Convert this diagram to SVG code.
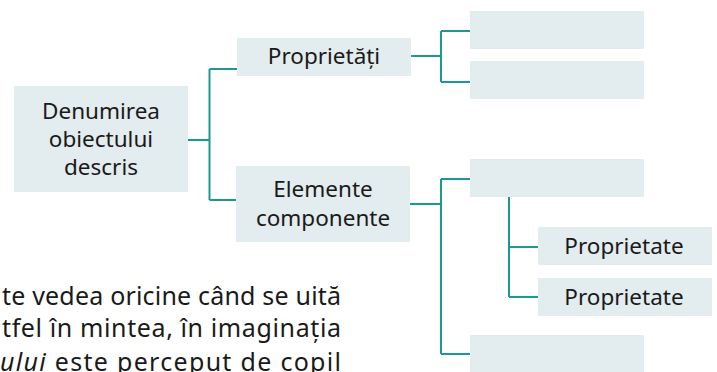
<svg xmlns="http://www.w3.org/2000/svg" width="717" height="372" viewBox="0 0 717 372">
<style>
.box{fill:#e3ecee}
.t{font-family:"Noto Sans","Liberation Sans",sans-serif;font-size:22.5px;fill:#1a1a1a;text-anchor:middle}
.p{font-family:"Noto Sans","Liberation Sans",sans-serif;font-size:25px;fill:#1a1a1a}
.c{fill:none;stroke:#1a9994;stroke-width:2}
</style>
<rect width="717" height="372" fill="#ffffff"/>
<g id="connectors">
<path class="c" d="M188,140H209.5M209.5,69V200M209.5,69H237M209.5,200H236"/>
<path class="c" d="M411,56H441M441,31V82M441,31H470M441,82H470"/>
<path class="c" d="M410,204H441M441,179V354M441,179H470M441,354H470"/>
<path class="c" d="M509,197V297M509,247H538M509,297H538"/>
</g>
<g id="root"><rect class="box" x="14" y="86" width="174" height="106"/>
<text class="t" x="101" y="119">Denumirea</text><text class="t" x="101" y="147">obiectului</text><text class="t" x="101" y="175">descris</text></g>
<g id="proprietati"><rect class="box" x="237" y="38" width="174" height="38"/><text class="t" x="324" y="64">Proprietăți</text></g>
<g id="elemente"><rect class="box" x="236" y="166" width="174" height="76"/><text class="t" x="323" y="197">Elemente</text><text class="t" x="323" y="226">componente</text></g>
<g id="e1"><rect class="box" x="470" y="11" width="174" height="38"/></g>
<g id="e2"><rect class="box" x="470" y="61" width="174" height="38"/></g>
<g id="e3"><rect class="box" x="470" y="159" width="174" height="38"/></g>
<g id="e4"><rect class="box" x="470" y="335" width="174" height="37"/></g>
<g id="p1"><rect class="box" x="538" y="227" width="174" height="38"/><text class="t" x="624" y="254">Proprietate</text></g>
<g id="p2"><rect class="box" x="538" y="278" width="174" height="38"/><text class="t" x="624" y="305">Proprietate</text></g>
<g id="paragraph">
<text class="p" x="2" y="304.5" textLength="339" lengthAdjust="spacing">te vedea oricine când se uită</text>
<text class="p" x="2" y="336.5" textLength="339" lengthAdjust="spacing">tfel în mintea, în imaginația</text>
<text class="p" x="0" y="371" textLength="341" lengthAdjust="spacing"><tspan font-style="italic">ului</tspan> este perceput de copil</text>
</g>
</svg>
